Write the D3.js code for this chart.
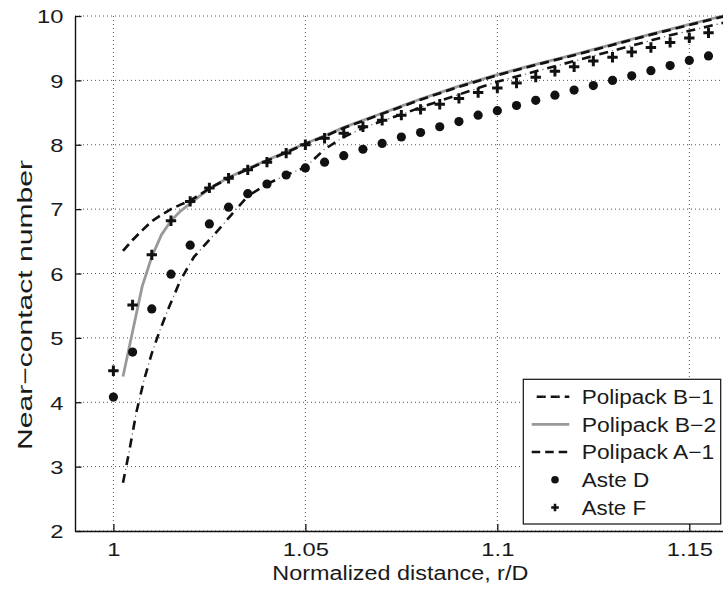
<!DOCTYPE html>
<html><head><meta charset="utf-8">
<script src="https://cdn.jsdelivr.net/npm/d3@7"></script>
<style>
html,body{margin:0;padding:0;background:#fff;}
svg{display:block;font-family:"Liberation Sans",Arial,Helvetica,sans-serif;}
</style></head>
<body><svg id="c" width="723" height="592"></svg>
<script>
// ---- data ----
const xTicks = [1, 1.05, 1.1, 1.15];
const xTickLabels = ["1", "1.05", "1.1", "1.15"];
const yTicks = [2, 3, 4, 5, 6, 7, 8, 9, 10];
const yTickLabels = ["2", "3", "4", "5", "6", "7", "8", "9", "10"];

const seriesNames = ["Polipack B\u22121", "Polipack B\u22122", "Polipack A\u22121", "Aste D", "Aste F"];

const b1X = [1.0025, 1.004, 1.006, 1.008, 1.010, 1.012, 1.0145, 1.0175, 1.021, 1.0265, 1.031, 1.035, 1.040, 1.045, 1.050, 1.055, 1.060, 1.065, 1.070, 1.075, 1.080, 1.085, 1.090, 1.095, 1.100, 1.105, 1.110, 1.115, 1.120, 1.125, 1.130, 1.135, 1.140, 1.145, 1.150, 1.155, 1.160];
const b1Y = [2.75, 3.20, 3.85, 4.35, 4.76, 5.10, 5.48, 5.90, 6.26, 6.62, 6.93, 7.20, 7.39, 7.53, 7.65, 7.93, 8.12, 8.26, 8.37, 8.47, 8.58, 8.68, 8.78, 8.88, 8.98, 9.06, 9.14, 9.22, 9.30, 9.38, 9.46, 9.54, 9.62, 9.70, 9.77, 9.84, 9.91];

const b2X = [1.0025, 1.005, 1.0075, 1.010, 1.0125, 1.015, 1.0175, 1.020, 1.025, 1.030, 1.035, 1.040, 1.045, 1.050, 1.055, 1.060, 1.065, 1.070, 1.075, 1.080, 1.085, 1.090, 1.095, 1.100, 1.110, 1.120, 1.130, 1.140, 1.150, 1.160];
const b2Y = [4.40, 5.10, 5.80, 6.26, 6.60, 6.82, 6.97, 7.09, 7.32, 7.49, 7.63, 7.76, 7.89, 8.02, 8.14, 8.27, 8.38, 8.49, 8.60, 8.71, 8.81, 8.91, 9.00, 9.09, 9.25, 9.40, 9.56, 9.72, 9.87, 10.02];

const a1X = [1.0025, 1.005, 1.0075, 1.010, 1.0125, 1.015, 1.0175, 1.020, 1.025, 1.030, 1.035, 1.040, 1.045, 1.050, 1.055, 1.060, 1.065, 1.070, 1.075, 1.080, 1.085, 1.090, 1.095, 1.100, 1.110, 1.120, 1.130, 1.140, 1.150, 1.160];
const a1Y = [6.35, 6.52, 6.67, 6.81, 6.91, 7.00, 7.07, 7.13, 7.32, 7.48, 7.62, 7.75, 7.88, 8.01, 8.13, 8.26, 8.37, 8.48, 8.59, 8.70, 8.80, 8.90, 8.99, 9.08, 9.24, 9.39, 9.55, 9.71, 9.86, 10.01];

const asteX = [1.000, 1.005, 1.010, 1.015, 1.020, 1.025, 1.030, 1.035, 1.040, 1.045, 1.050, 1.055, 1.060, 1.065, 1.070, 1.075, 1.080, 1.085, 1.090, 1.095, 1.100, 1.105, 1.110, 1.115, 1.120, 1.125, 1.130, 1.135, 1.140, 1.145, 1.150, 1.155];
const asteD = [4.08, 4.78, 5.45, 5.99, 6.44, 6.77, 7.03, 7.24, 7.39, 7.53, 7.64, 7.73, 7.83, 7.93, 8.02, 8.12, 8.19, 8.28, 8.36, 8.46, 8.53, 8.61, 8.69, 8.77, 8.85, 8.92, 9.00, 9.07, 9.15, 9.23, 9.31, 9.38];
const asteF = [4.49, 5.51, 6.29, 6.82, 7.12, 7.33, 7.48, 7.61, 7.73, 7.87, 8.00, 8.10, 8.18, 8.28, 8.38, 8.46, 8.55, 8.63, 8.72, 8.81, 8.88, 8.96, 9.05, 9.14, 9.21, 9.30, 9.36, 9.44, 9.51, 9.59, 9.66, 9.74];

// ---- layout ----
const svg = d3.select("#c");
const L = 75, R = 727.7, T = 16, B = 531;
const x = d3.scaleLinear().domain([0.99, 1.16]).range([L, R]);
const y = d3.scaleLinear().domain([2, 10]).range([B, T]);
const ink = "#111";
const gray = "#999";

// grid
const grid = svg.append("g");
grid.selectAll("line.gx").data(xTicks).join("line")
  .attr("x1", d => x(d)).attr("x2", d => x(d)).attr("y1", T).attr("y2", B)
  .attr("stroke", "#555").attr("stroke-width", 1).attr("stroke-dasharray", "1,3");
grid.selectAll("line.gy").data(yTicks).join("line")
  .attr("x1", L).attr("x2", R).attr("y1", d => y(d)).attr("y2", d => y(d))
  .attr("stroke", "#555").attr("stroke-width", 1).attr("stroke-dasharray", "1,3");

// axes
const xAxis = d3.axisBottom(x).tickValues(xTicks).tickFormat((d, i) => xTickLabels[i]).tickSizeInner(-7).tickSizeOuter(0).tickPadding(12);
const yAxis = d3.axisLeft(y).tickValues(yTicks).tickFormat((d, i) => yTickLabels[i]).tickSizeInner(-6.5).tickSizeOuter(0).tickPadding(11.5);
const gx = svg.append("g").attr("transform", `translate(0,${B})`).call(xAxis);
const gy = svg.append("g").attr("transform", `translate(${L},0)`).call(yAxis);
[gx, gy].forEach(g => {
  g.select(".domain").attr("stroke", ink).attr("stroke-width", 1.4);
  g.selectAll(".tick line").attr("stroke", ink).attr("stroke-width", 1.3);
  g.selectAll(".tick text").attr("fill", "#1a1a1a").style("font-size", "19px")
    .style("font-family", '"Liberation Sans",Arial,sans-serif');
});
gx.selectAll(".tick text").attr("dy", "0.71em");
gy.selectAll(".tick text").attr("dy", "0.36em");
[gx, gy].forEach(g => g.selectAll(".tick text").each(function () {
  const w = this.getComputedTextLength();
  d3.select(this).attr("textLength", w * 1.25).attr("lengthAdjust", "spacingAndGlyphs");
}));

// axis titles
svg.append("text").attr("x", 400.3).attr("y", 580).attr("text-anchor", "middle")
  .style("font-size", "20px").attr("fill", "#1a1a1a")
  .attr("textLength", 256).attr("lengthAdjust", "spacingAndGlyphs")
  .text("Normalized distance, r/D");
svg.append("text").attr("transform", "translate(31.5,305) rotate(-90)").attr("text-anchor", "middle")
  .style("font-size", "21px").attr("fill", "#1a1a1a")
  .attr("textLength", 290).attr("lengthAdjust", "spacingAndGlyphs")
  .text("Near\u2212contact number");

// lines
const line = d3.line().x(d => x(d[0])).y(d => y(d[1]));
const zip = (a, b) => a.map((v, i) => [v, b[i]]);
const plot = svg.append("g");

// B-2 gray solid
plot.append("path").datum(zip(b2X, b2Y)).attr("d", line)
  .attr("fill", "none").attr("stroke", gray).attr("stroke-width", 2.8).attr("stroke-linejoin", "round");
// B-1 dash-dot
plot.append("path").datum(zip(b1X, b1Y)).attr("d", line)
  .attr("fill", "none").attr("stroke", ink).attr("stroke-width", 2.6).attr("stroke-dasharray", "9 9");
plot.append("path").datum(zip(b1X, b1Y)).attr("d", line)
  .attr("fill", "none").attr("stroke", "#555").attr("stroke-width", 1.1).attr("stroke-dasharray", "1.2 16.8").attr("stroke-dashoffset", 5);
// A-1 dashed
plot.append("path").datum(zip(a1X, a1Y)).attr("d", line)
  .attr("fill", "none").attr("stroke", ink).attr("stroke-width", 2.7).attr("stroke-dasharray", "9 5");

// markers
plot.selectAll("circle.d").data(zip(asteX, asteD)).join("circle")
  .attr("cx", d => x(d[0])).attr("cy", d => y(d[1])).attr("r", 4.6).attr("fill", ink);
const plus = (g, cx, cy, h, w) => {
  g.append("path").attr("d", `M${cx - h},${cy}H${cx + h}M${cx},${cy - h}V${cy + h}`)
    .attr("stroke", ink).attr("stroke-width", w).attr("fill", "none");
};
const pg = plot.append("g");
zip(asteX, asteF).forEach(d => plus(pg, x(d[0]), y(d[1]), 5.2, 3));

// legend
const lg = svg.append("g");
lg.append("rect").attr("x", 523.3).attr("y", 379.3).attr("width", 197.4).attr("height", 144.7)
  .attr("fill", "#fff").attr("stroke", ink).attr("stroke-width", 1.2);
const rowsY = [396.7, 424.3, 452, 479.7, 507.5];
const textW = [132, 134.5, 132.5, 67.6, 64.3];
const lx1 = 531.7, lx2 = 569.3, lmid = 555;
// B-1 sample
lg.append("line").attr("x1", lx1).attr("x2", lx2).attr("y1", rowsY[0]).attr("y2", rowsY[0])
  .attr("stroke", ink).attr("stroke-width", 2.4).attr("stroke-dasharray", "9 5").attr("stroke-dashoffset", -5);
lg.append("line").attr("x1", lx1).attr("x2", lx2).attr("y1", rowsY[0]).attr("y2", rowsY[0])
  .attr("stroke", "#555").attr("stroke-width", 1.1).attr("stroke-dasharray", "1.2 12.8").attr("stroke-dashoffset", 3);
// B-2 sample
lg.append("line").attr("x1", lx1).attr("x2", lx2).attr("y1", rowsY[1]).attr("y2", rowsY[1])
  .attr("stroke", gray).attr("stroke-width", 2.8);
// A-1 sample
lg.append("line").attr("x1", lx1).attr("x2", lx2).attr("y1", rowsY[2]).attr("y2", rowsY[2])
  .attr("stroke", ink).attr("stroke-width", 2.5).attr("stroke-dasharray", "8.5 5");
lg.append("circle").attr("cx", lmid).attr("cy", rowsY[3]).attr("r", 3.8).attr("fill", ink);
plus(lg, lmid, rowsY[4], 3.8, 2.6);
lg.selectAll("text").data(seriesNames).join("text")
  .attr("x", 581.7).attr("y", (d, i) => rowsY[i] + 7.2)
  .style("font-size", "20px").attr("fill", "#1a1a1a")
  .attr("textLength", (d, i) => textW[i]).attr("lengthAdjust", "spacingAndGlyphs")
  .text(d => d);
</script></body></html>
